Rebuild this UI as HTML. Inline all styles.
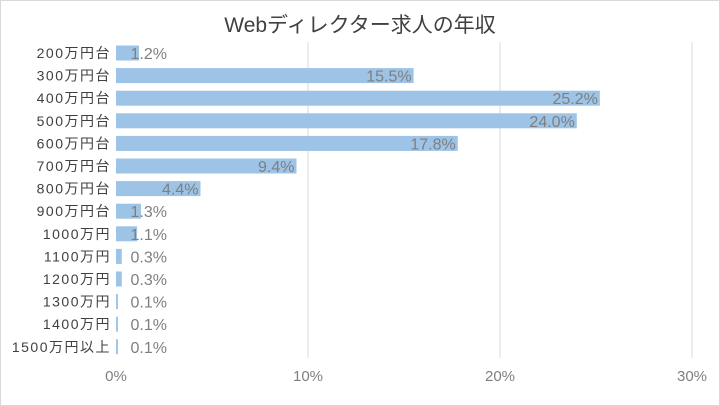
<!DOCTYPE html>
<html><head><meta charset="utf-8"><style>
html,body{margin:0;padding:0;background:#fff;}
svg{display:block;font-family:"Liberation Sans","Noto Sans CJK JP",sans-serif;}
</style></head><body>
<svg id="chart" width="720" height="406" viewBox="0 0 720 406">
<rect x="0.5" y="0.5" width="719" height="405" fill="#fff" stroke="#d9d9d9"/>
<text x="360" y="32" text-anchor="middle" font-size="21" fill="#404040">Webディレクター求人の年収</text>
<g id="grid"></g>
<g id="bars"></g>
<g id="labels"></g>
<g id="cats"></g>
<g id="ticks"></g>
</svg>
<script>
const categories = ["200万円台","300万円台","400万円台","500万円台","600万円台","700万円台","800万円台","900万円台","1000万円","1100万円","1200万円","1300万円","1400万円","1500万円以上"];
const values = [1.2,15.5,25.2,24.0,17.8,9.4,4.4,1.3,1.1,0.3,0.3,0.1,0.1,0.1];
const valueLabels = ["1.2%","15.5%","25.2%","24.0%","17.8%","9.4%","4.4%","1.3%","1.1%","0.3%","0.3%","0.1%","0.1%","0.1%"];
const tickValues = [0,10,20,30];
const tickLabels = ["0%","10%","20%","30%"];

const NS="http://www.w3.org/2000/svg";
const x0=116, x1=692, xMax=30, yTop=53, yStep=22.6, barH=15;
const xs=v=>x0+(v/xMax)*(x1-x0);
const ys=i=>yTop+i*yStep;
function mk(tag,attrs,parent){const e=document.createElementNS(NS,tag);for(const k in attrs)e.setAttribute(k,attrs[k]);document.getElementById(parent).appendChild(e);return e;}
tickValues.forEach((t,i)=>{
  if(t>0){const l=mk('line',{x1:xs(t),x2:xs(t),y1:42,y2:358,stroke:'#d9d9d9','stroke-width':1},'grid');
  
  }
  const tx=mk('text',{x:xs(t),y:381,'text-anchor':'middle','font-size':15,fill:'#7f7f7f'},'ticks');
  tx.textContent=tickLabels[i];
  
  
});
categories.forEach((c,i)=>{
  const cy=ys(i);
  const r=mk('rect',{x:x0,y:cy-barH/2,width:Math.max(xs(values[i])-x0,0.8),height:barH,fill:'#9dc3e6'},'bars');
  
  
  const ct=mk('text',{x:111,y:cy+5,'text-anchor':'end','font-size':14,'letter-spacing':1.5,fill:'#404040'},'cats');
  ct.textContent=c;
  
  
  const lx=Math.max(xs(values[i])-2,167);
  const vt=mk('text',{x:lx,y:cy+6,'text-anchor':'end','font-size':16,fill:'#7f7f7f'},'labels');
  vt.textContent=valueLabels[i];
  
  
});
</script>
</body></html>
